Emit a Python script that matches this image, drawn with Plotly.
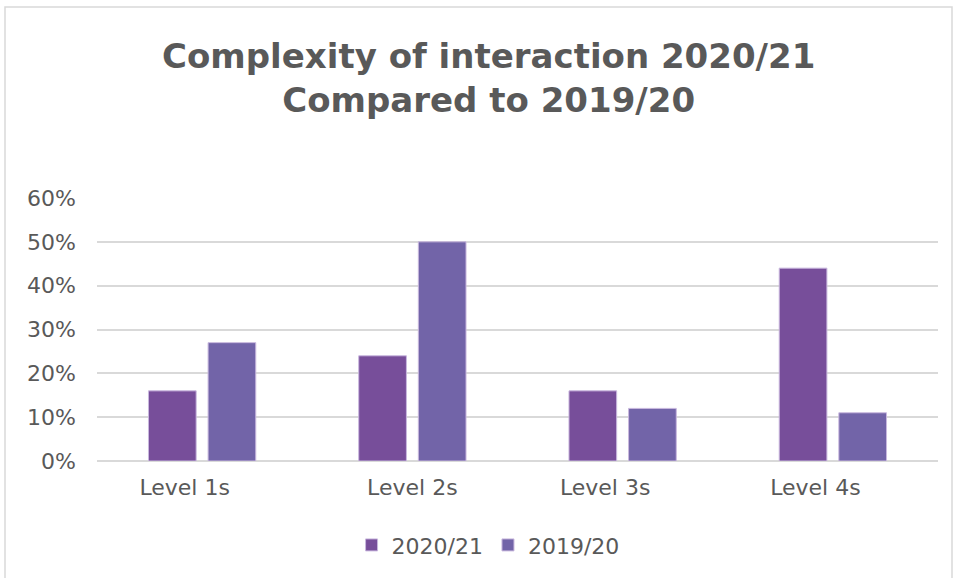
import plotly.graph_objects as go

# Chart data
categories = ["Level 1s", "Level 2s", "Level 3s", "Level 4s"]
category_labels = ["Level 1s\u00a0\u00a0\u00a0\u00a0\u00a0", "Level 2s",
                   "Level 3s\u00a0\u00a0\u00a0\u00a0\u00a0", "Level 4s\u00a0\u00a0\u00a0\u00a0\u00a0"]
series_names = ["2020/21", "2019/20"]
values_2020_21 = [0.16, 0.24, 0.16, 0.44]
values_2019_20 = [0.27, 0.50, 0.12, 0.11]
tick_values = [0, 0.1, 0.2, 0.3, 0.4, 0.5, 0.6]
tick_labels = ["0%", "10%", "20%", "30%", "40%", "50%", "60%"]
title_lines = ["Complexity of interaction 2020/21", "Compared to 2019/20"]

colors = ["#774E9A", "#7264A8"]
text_color = "#595959"
grid_color = "#D9D9D9"
font_family = "DejaVu Sans, sans-serif"

W, H = 958, 578
ML, MR, MT, MB = 97, 20, 198, 117
plot_w = W - ML - MR
plot_h = H - MT - MB

fig = go.Figure()
for name, vals, col in zip(series_names, [values_2020_21, values_2019_20], colors):
    fig.add_trace(go.Bar(
        x=categories, y=vals, name=name,
        marker=dict(color=col, line=dict(color="#C9B8DE", width=1)),
    ))

# Pixel positions converted to paper coordinates
def px_x(p):
    return (p - ML) / plot_w

def px_y(p):
    return (H - MB - p) / plot_h

# Outer chart border
fig.add_shape(type="rect", xref="paper", yref="paper",
              x0=px_x(5), x1=px_x(952), y0=px_y(600), y1=px_y(7),
              line=dict(color=grid_color, width=1.5), fillcolor="rgba(0,0,0,0)",
              layer="below")

# Two-line bold title
fig.add_annotation(
    text="<b>" + "<br>".join(title_lines) + "</b>",
    xref="paper", yref="paper", x=px_x(488), y=px_y(78),
    xanchor="center", yanchor="middle", showarrow=False, align="center",
    font=dict(size=34, color=text_color, family=font_family),
)

fig.update_layout(
    width=W, height=H,
    margin=dict(l=ML, r=MR, t=MT, b=MB, pad=0),
    paper_bgcolor="white", plot_bgcolor="white",
    font=dict(family=font_family, color=text_color, size=22),
    barmode="group", bargap=0.433, bargroupgap=0.2,
    showlegend=True,
    legend=dict(orientation="h", x=0.465, xanchor="center", y=-0.24, yanchor="top",
                font=dict(size=22, color=text_color), itemwidth=30,
                traceorder="normal"),
    xaxis=dict(showgrid=False, showline=False, ticks="", tickfont=dict(size=22),
               tickmode="array", tickvals=categories, ticktext=category_labels,
               ticklabelstandoff=11),
    yaxis=dict(range=[0, 0.6], tickvals=tick_values, ticktext=tick_labels,
               showgrid=True, gridcolor=grid_color, gridwidth=1.5,
               zeroline=True, zerolinecolor=grid_color, zerolinewidth=1.5,
               showline=False, ticks="", tickfont=dict(size=22),
               ticklabelstandoff=20),
)

fig.write_html("out.html")
